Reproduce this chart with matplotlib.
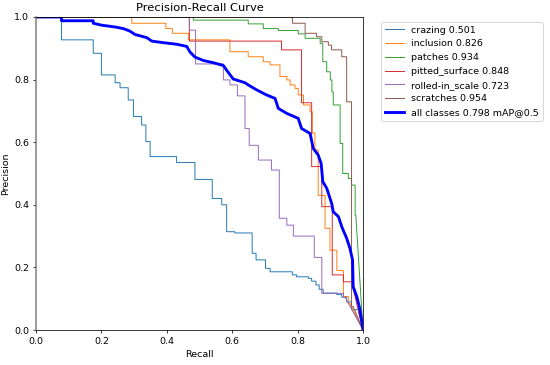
import numpy as np
import matplotlib
matplotlib.use("Agg")
import matplotlib.pyplot as plt

# step curves: recall where precision drops, new precision level, recall where the final ramp to (1, 0) starts
names = ["crazing 0.501", "inclusion 0.826", "patches 0.934",
         "pitted_surface 0.848", "rolled-in_scale 0.723", "scratches 0.954"]

crazing_r = [0.078, 0.175, 0.200, 0.242, 0.257, 0.282, 0.298, 0.323, 0.336, 0.349, 0.430, 0.486,
             0.539, 0.568, 0.583, 0.608, 0.661, 0.673, 0.702, 0.716, 0.784, 0.797, 0.833, 0.843,
             0.856, 0.866, 0.878, 0.920, 0.935, 0.950, 0.965]
crazing_p = [0.927, 0.884, 0.815, 0.790, 0.774, 0.735, 0.682, 0.655, 0.602, 0.554, 0.535, 0.481,
             0.420, 0.400, 0.314, 0.310, 0.245, 0.224, 0.197, 0.186, 0.176, 0.170, 0.165, 0.156,
             0.144, 0.130, 0.118, 0.113, 0.105, 0.090, 0.065]
crazing_end = 0.985

inclusion_r = [0.293, 0.397, 0.417, 0.466, 0.593, 0.649, 0.695, 0.716, 0.746, 0.767, 0.777, 0.792,
               0.802, 0.818, 0.838, 0.845, 0.853, 0.863, 0.884, 0.899, 0.920, 0.940, 0.955]
inclusion_p = [0.980, 0.963, 0.948, 0.927, 0.889, 0.873, 0.857, 0.847, 0.810, 0.799, 0.783, 0.772,
               0.751, 0.719, 0.697, 0.629, 0.575, 0.430, 0.325, 0.255, 0.190, 0.107, 0.085]
inclusion_end = 0.960

patches_r = [0.481, 0.649, 0.695, 0.741, 0.802, 0.823, 0.869, 0.877, 0.889, 0.900, 0.905, 0.909,
             0.930, 0.938, 0.955, 0.965, 0.976]
patches_p = [0.990, 0.978, 0.963, 0.957, 0.946, 0.932, 0.916, 0.857, 0.825, 0.799, 0.761, 0.719,
             0.596, 0.500, 0.484, 0.463, 0.367]
patches_end = 0.978

pitted_r = [0.469, 0.751, 0.812, 0.843, 0.874, 0.906, 0.940]
pitted_p = [0.923, 0.895, 0.726, 0.522, 0.394, 0.176, 0.154]
pitted_end = 0.965

rolled_r = [0.469, 0.488, 0.573, 0.593, 0.616, 0.639, 0.652, 0.680, 0.720, 0.744, 0.767, 0.787,
            0.851, 0.874, 0.940]
rolled_p = [0.958, 0.850, 0.799, 0.783, 0.748, 0.644, 0.590, 0.543, 0.511, 0.357, 0.335, 0.300,
            0.232, 0.117, 0.105]
rolled_end = 0.945

scratches_r = [0.784, 0.823, 0.858, 0.874, 0.894, 0.904, 0.935, 0.950, 0.965]
scratches_p = [0.980, 0.948, 0.937, 0.921, 0.910, 0.895, 0.873, 0.729, 0.075]
scratches_end = 0.970

# mean curve (thick blue)
all_r = [0.0, 0.078, 0.078, 0.175, 0.175, 0.200, 0.242, 0.267, 0.287, 0.303, 0.339, 0.354, 0.389,
         0.430, 0.461, 0.471, 0.486, 0.512, 0.542, 0.573, 0.583, 0.603, 0.639, 0.649, 0.675,
         0.705, 0.731, 0.741, 0.767, 0.802, 0.812, 0.838, 0.848, 0.863, 0.872, 0.877, 0.889,
         0.904, 0.909, 0.925, 0.935, 0.950, 0.960, 0.968, 0.970, 0.981, 0.991, 1.0]
all_p = [1.0, 1.0, 0.988, 0.988, 0.980, 0.974, 0.968, 0.963, 0.955, 0.944, 0.934, 0.923, 0.918,
         0.913, 0.906, 0.888, 0.872, 0.861, 0.854, 0.845, 0.830, 0.802, 0.790, 0.783, 0.767,
         0.751, 0.740, 0.708, 0.692, 0.676, 0.644, 0.628, 0.580, 0.559, 0.532, 0.474, 0.453,
         0.405, 0.378, 0.362, 0.330, 0.293, 0.261, 0.224, 0.138, 0.107, 0.064, 0.0]


def step_curve(r, p, end):
    xs, ys = [0.0], [1.0]
    level = 1.0
    for ri, pi in zip(r, p):
        xs += [ri, ri]
        ys += [level, pi]
        level = pi
    xs += [end, 1.0]
    ys += [level, 0.0]
    return np.array(xs), np.array(ys)


curves = [(crazing_r, crazing_p, crazing_end), (inclusion_r, inclusion_p, inclusion_end),
          (patches_r, patches_p, patches_end), (pitted_r, pitted_p, pitted_end),
          (rolled_r, rolled_p, rolled_end), (scratches_r, scratches_p, scratches_end)]

dpi = 68.75
fig, ax = plt.subplots(1, 1, figsize=(550 / dpi, 365 / dpi), dpi=dpi)
fig.subplots_adjust(left=36 / 550, right=363 / 550, top=1 - 17 / 365, bottom=1 - 330 / 365)

for name, (r, p, end) in zip(names, curves):
    x, y = step_curve(r, p, end)
    ax.plot(x, y, linewidth=1, label=name)

ax.plot(all_r, all_p, linewidth=3, color="blue", label="all classes 0.798 mAP@0.5")

ax.spines["left"].set_color("#7f7f7f")
ax.spines["left"].set_linewidth(1.6)

ax.set_xlabel("Recall")
ax.set_ylabel("Precision")
ax.set_xlim(0, 1)
ax.set_ylim(0, 1)
ax.set_title("Precision-Recall Curve")
ax.legend(bbox_to_anchor=(1.04, 1), loc="upper left")
fig.savefig("out.png", dpi=dpi)
